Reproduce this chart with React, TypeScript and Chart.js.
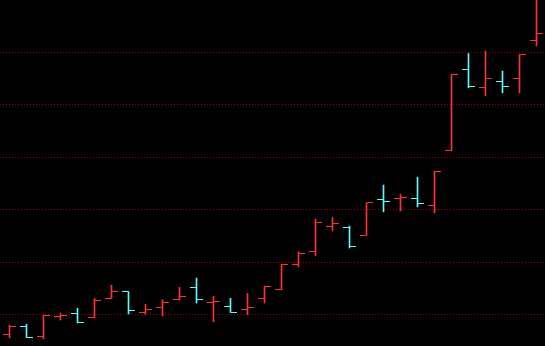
import React, { useEffect, useRef } from "react";
import { Chart, registerables } from "chart.js";

Chart.register(...registerables);

// Daily OHLC prices, one entry per session
const opens = [
  9.25, 9.54, 9.16, 9.94, 10.04, 9.89, 10.61, 10.88, 10.08, 10.27, 10.57,
  11.04, 10.46, 10.31, 10.19, 10.61, 10.95, 11.91, 12.4, 13.36, 13.32, 13.02,
  14.39, 14.43, 14.43, 14.16, 16.26, 19.35, 18.66, 18.89, 19.01, 20.46,
];
const highs = [
  9.59, 9.63, 9.98, 10.05, 10.24, 10.62, 11.12, 10.88, 10.39, 10.57, 11.04,
  11.39, 10.7, 10.62, 10.81, 11.08, 11.91, 12.4, 13.64, 13.71, 13.37, 14.27,
  14.94, 14.59, 15.24, 15.46, 19.16, 19.96, 20.05, 19.29, 19.92, 22.5,
];
const lows = [
  9.11, 9.12, 9.07, 9.79, 9.68, 9.87, 10.61, 10.02, 10.01, 9.95, 10.57,
  10.44, 9.72, 10.08, 10.0, 10.44, 10.95, 11.82, 12.24, 13.19, 12.54, 13.02,
  13.92, 13.95, 14.11, 13.88, 16.26, 18.65, 18.34, 18.46, 18.46, 20.25,
];
const closes = [
  9.54, 9.12, 9.98, 9.96, 9.69, 10.53, 10.88, 10.15, 10.19, 10.46, 10.69,
  10.57, 10.5, 10.08, 10.27, 11.07, 11.91, 12.33, 13.51, 13.47, 12.6, 14.27,
  14.31, 14.47, 14.24, 15.46, 19.16, 18.7, 19.01, 18.7, 19.92, 20.73,
];
const priceLevels = [10, 12, 14, 16, 18, 20];

const UP = "#ff3232";
const DOWN = "#54ffff";
const GRID = "#a00000";
const TICK = 6;

const barColors = opens.map((o, i) => (closes[i] >= o ? UP : DOWN));

// Open (left) and close (right) ticks for each bar
const ohlcTicks = {
  id: "ohlcTicks",
  afterDatasetsDraw(chart: Chart) {
    const { ctx, chartArea, scales } = chart;
    const xs = scales.x;
    const ys = scales.y;
    ctx.save();
    ctx.beginPath();
    ctx.rect(chartArea.left, chartArea.top, chartArea.right - chartArea.left, chartArea.bottom - chartArea.top);
    ctx.clip();
    opens.forEach((o, i) => {
      const xc = Math.floor(xs.getPixelForValue(i));
      const yo = Math.floor(ys.getPixelForValue(o));
      const yc = Math.floor(ys.getPixelForValue(closes[i]));
      ctx.fillStyle = barColors[i];
      ctx.fillRect(xc - TICK, yo, TICK, 1);
      ctx.fillRect(xc + 1, yc, TICK, 1);
    });
    ctx.restore();
  },
};

const blackBackground = {
  id: "blackBackground",
  beforeDraw(chart: Chart) {
    const { ctx, width, height } = chart;
    ctx.save();
    ctx.fillStyle = "#000";
    ctx.fillRect(0, 0, width, height);
    ctx.restore();
  },
};

export default function App() {
  const canvasRef = useRef<HTMLCanvasElement | null>(null);

  useEffect(() => {
    const canvas = canvasRef.current;
    if (!canvas) return;
    const chart = new Chart(canvas, {
      type: "bar",
      data: {
        datasets: [
          {
            data: opens.map((_, i) => ({ x: i, y: [lows[i], highs[i]] })) as any,
            backgroundColor: barColors,
            borderWidth: 0,
            barThickness: 1,
            grouped: false,
          },
        ],
      },
      options: {
        animation: false,
        responsive: false,
        devicePixelRatio: 1,
        layout: { padding: 0 },
        plugins: {
          legend: { display: false },
          tooltip: { enabled: false },
        },
        scales: {
          x: {
            type: "linear",
            display: false,
            offset: false,
            min: -0.5588,
            max: 31.5,
          },
          y: {
            type: "linear",
            min: 8.8,
            max: 22.0,
            afterBuildTicks: (scale: any) => {
              scale.ticks = priceLevels.map((v) => ({ value: v }));
            },
            ticks: { display: false },
            grid: { color: GRID, lineWidth: 1, drawTicks: false },
            border: { display: false, dash: [1, 2] },
          },
        },
      },
      plugins: [blackBackground, ohlcTicks],
    });
    return () => chart.destroy();
  }, []);

  return (
    <div
      style={{
        position: "fixed",
        left: 0,
        top: 0,
        width: 545,
        height: 346,
        background: "#000",
      }}
    >
      <canvas ref={canvasRef} width={545} height={346} style={{ display: "block" }} />
    </div>
  );
}
